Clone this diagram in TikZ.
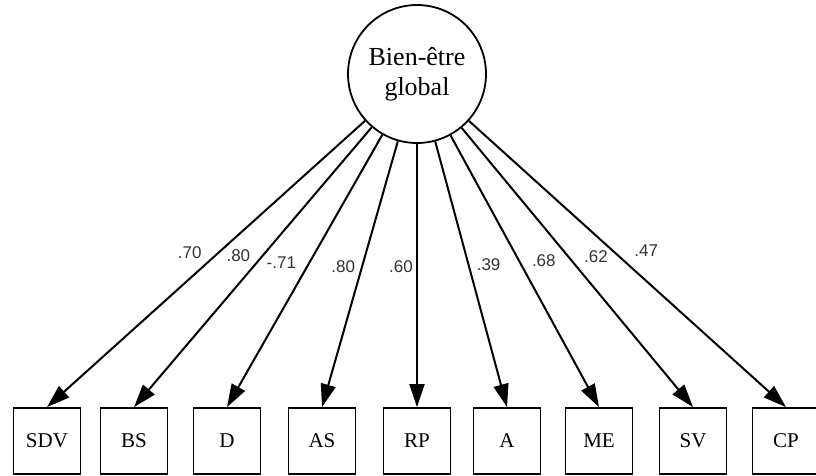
\documentclass[tikz,border=0pt]{standalone}
\usepackage{fontspec}
\setmainfont{Liberation Serif}
\newfontfamily\lblfont{Liberation Sans}
\usetikzlibrary{arrows.meta}

\tikzset{
  latent/.style={circle, draw, line width=1.8pt, minimum size=138pt, inner sep=0pt, align=center, font=\fontsize{26}{30}\selectfont},
  obs/.style={rectangle, draw, line width=1.8pt, minimum width=67pt, minimum height=66pt, inner sep=0pt, font=\fontsize{21}{24}\selectfont},
  loading/.style={line width=2pt, -{Triangle[length=23pt, width=15pt]}},
  coef/.style={font=\lblfont\fontsize{17}{19}\selectfont, text=black!80, inner sep=0pt}
}

\begin{document}
\begin{tikzpicture}[x=1pt, y=-1pt]
    \useasboundingbox (0,0) rectangle (816,475);

    \node[latent] (bwg) at (417,74) {Bien-être\\global};

    % observed indicators
    \foreach \n/\x in {SDV/47, BS/134, D/227, AS/322, RP/417, A/507, ME/599, SV/693, CP/786}
        \node[obs] (\n) at (\x,441) {\n};

    \foreach \n/\lab/\p/\dx in {SDV/.70/0.46/-29, BS/.80/0.46/-24, D/-.71/0.47/-28, AS/.80/0.47/-19, RP/.60/0.466/-16, A/.39/0.465/20, ME/.68/0.46/25, SV/.62/0.46/28, CP/.47/0.455/33}
        \draw[loading] (bwg) -- node[coef, pos=\p, xshift=\dx pt] {\lab} (\n.north);
\end{tikzpicture}
\end{document}
